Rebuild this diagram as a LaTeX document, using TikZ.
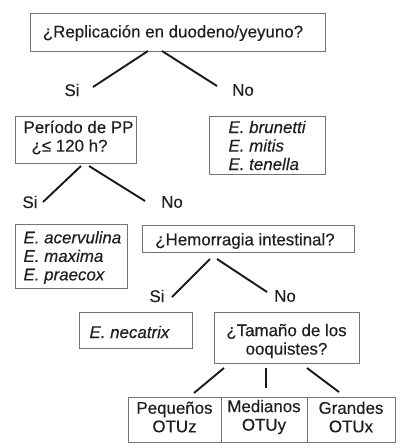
\documentclass[tikz,border=0pt]{standalone}
\usepackage{fontspec}
\setmainfont{Liberation Sans}[FakeBold=0.3]
\begin{document}
\begin{tikzpicture}[x=1pt,y=-1pt,
  every node/.style={font=\fontsize{16.9}{18.5}\selectfont, text=black!88},
  box/.style={draw=black!55, line width=0.9pt, rectangle, inner sep=0pt},
  conn/.style={line width=1.9pt, black!90},
  lbl/.style={inner sep=1pt}]
\useasboundingbox (0,0) rectangle (400,448);
% boxes
\node[box, minimum width=295pt, minimum height=38pt] (top) at (177.5,32) {};
\node (toptxt) at (173,33) {¿Replicación en duodeno/yeyuno?};
\node[box, minimum width=121pt, minimum height=47pt] (pp) at (75.5,139.5) {};
\node[align=left, anchor=west] (pptxt) at (20,137.5) {Período de PP\\\hspace{8pt}¿≤ 120 h?};
\node[box, minimum width=116pt, minimum height=58pt] (bru) at (267.5,145) {};
\node[align=left, anchor=west] (brutxt) at (225,145.5) {\itshape E. brunetti\\\itshape E. mitis\\\itshape E. tenella};
\node[box, minimum width=112pt, minimum height=64pt] (ace) at (71,256) {};
\node[align=left, anchor=west] (acetxt) at (20,257.5) {\itshape E. acervulina\\\itshape E. maxima\\\itshape E. praecox};
\node[box, minimum width=212pt, minimum height=27pt] (hem) at (248,238.5) {};
\node (hemtxt) at (245,241) {¿Hemorragia intestinal?};
\node[box, minimum width=113pt, minimum height=36pt] (nec) at (135.5,330) {};
\node[anchor=west] (nectxt) at (86,332) {\itshape E. necatrix};
\node[box, minimum width=145pt, minimum height=51pt] (tam) at (286.5,337.5) {};
\node[align=center] (tamtxt) at (286.5,341) {¿Tamaño de los\\ooquistes?};
\node[box, minimum width=93pt, minimum height=45pt] (peq) at (174.5,419.5) {};
\node[align=center] (peqtxt) at (174.5,417) {Pequeños\\OTUz};
\node[box, minimum width=86pt, minimum height=45pt] (med) at (264,419.5) {};
\node[align=center] (medtxt) at (264,417) {Medianos\\OTUy};
\node[box, minimum width=88pt, minimum height=45pt] (gra) at (351,419.5) {};
\node[align=center] (gratxt) at (351,417) {Grandes\\OTUx};
% labels
\node[lbl] (si1) at (72,90) {Si};
\node[lbl] (no1) at (243,90) {No};
\node[lbl] (si2) at (30,202) {Si};
\node[lbl] (no2) at (172,202) {No};
\node[lbl] (si3) at (157,296) {Si};
\node[lbl] (no3) at (285,296) {No};
% connector end points
\coordinate (a1) at (148,51); \coordinate (a2) at (93,87);
\coordinate (b1) at (162,51); \coordinate (b2) at (217,86);
\coordinate (c1) at (81,166); \coordinate (c2) at (43,202);
\coordinate (d1) at (89,166); \coordinate (d2) at (145,201);
\coordinate (e1) at (210,259); \coordinate (e2) at (172,297);
\coordinate (f1) at (217,259); \coordinate (f2) at (267,292);
\coordinate (g1) at (224,368); \coordinate (g2) at (194,393);
\coordinate (h1) at (266,368); \coordinate (h2) at (266,388);
\coordinate (i1) at (307,368); \coordinate (i2) at (339,392);
\draw[conn] (a1) -- (a2);
\draw[conn] (b1) -- (b2);
\draw[conn] (c1) -- (c2);
\draw[conn] (d1) -- (d2);
\draw[conn] (e1) -- (e2);
\draw[conn] (f1) -- (f2);
\draw[conn] (g1) -- (g2);
\draw[conn] (h1) -- (h2);
\draw[conn] (i1) -- (i2);
\end{tikzpicture}
\end{document}
